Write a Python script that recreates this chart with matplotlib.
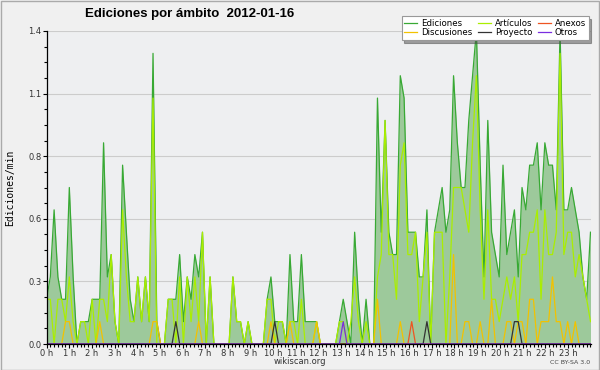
import numpy as np
import matplotlib
matplotlib.use('Agg')
import matplotlib.pyplot as plt
from matplotlib.ticker import MultipleLocator, FormatStrFormatter
from matplotlib.patches import Rectangle

# edits per minute, one value every 10 minutes (6 per hour, 24 rows)
ediciones = [
    0.2, 0.3, 0.6, 0.3, 0.2, 0.2,
    0.7, 0.3, 0.0, 0.1, 0.1, 0.1,
    0.2, 0.2, 0.2, 0.9, 0.3, 0.4,
    0.1, 0.0, 0.8, 0.5, 0.2, 0.1,
    0.3, 0.1, 0.3, 0.1, 1.3, 0.1,
    0.0, 0.0, 0.2, 0.2, 0.2, 0.4,
    0.1, 0.3, 0.2, 0.4, 0.3, 0.5,
    0.0, 0.3, 0.0, 0.0, 0.0, 0.0,
    0.0, 0.3, 0.1, 0.1, 0.0, 0.1,
    0.0, 0.0, 0.0, 0.0, 0.2, 0.3,
    0.1, 0.1, 0.1, 0.0, 0.4, 0.1,
    0.1, 0.4, 0.1, 0.1, 0.1, 0.1,
    0.0, 0.0, 0.0, 0.0, 0.0, 0.1,
    0.2, 0.1, 0.0, 0.5, 0.2, 0.0,
    0.2, 0.0, 0.0, 1.1, 0.5, 1.0,
    0.5, 0.4, 0.4, 1.2, 1.1, 0.5,
    0.5, 0.5, 0.3, 0.3, 0.6, 0.0,
    0.5, 0.6, 0.7, 0.5, 0.6, 1.2,
    0.9, 0.7, 0.7, 1.0, 1.2, 1.4,
    0.8, 0.3, 1.0, 0.5, 0.4, 0.3,
    0.8, 0.4, 0.5, 0.6, 0.3, 0.7,
    0.6, 0.8, 0.8, 0.9, 0.6, 0.9,
    0.8, 0.8, 0.6, 1.4, 0.6, 0.6,
    0.7, 0.6, 0.5, 0.3, 0.2, 0.5,
]

articulos = [
    0.2, 0.2, 0.0, 0.2, 0.2, 0.1,
    0.3, 0.1, 0.0, 0.1, 0.1, 0.0,
    0.2, 0.0, 0.2, 0.2, 0.1, 0.4,
    0.1, 0.0, 0.6, 0.3, 0.1, 0.1,
    0.3, 0.1, 0.3, 0.1, 1.1, 0.0,
    0.0, 0.0, 0.2, 0.2, 0.0, 0.3,
    0.0, 0.3, 0.1, 0.3, 0.1, 0.5,
    0.0, 0.3, 0.0, 0.0, 0.0, 0.0,
    0.0, 0.3, 0.1, 0.1, 0.0, 0.1,
    0.0, 0.0, 0.0, 0.0, 0.2, 0.2,
    0.0, 0.1, 0.1, 0.0, 0.1, 0.1,
    0.0, 0.2, 0.0, 0.0, 0.0, 0.1,
    0.0, 0.0, 0.0, 0.0, 0.0, 0.1,
    0.1, 0.0, 0.1, 0.3, 0.1, 0.0,
    0.1, 0.0, 0.0, 0.3, 0.4, 1.0,
    0.4, 0.4, 0.2, 0.8, 0.9, 0.4,
    0.4, 0.5, 0.1, 0.3, 0.5, 0.0,
    0.5, 0.5, 0.5, 0.0, 0.3, 0.7,
    0.7, 0.7, 0.6, 0.5, 0.9, 1.2,
    0.6, 0.2, 0.6, 0.2, 0.2, 0.1,
    0.2, 0.3, 0.2, 0.3, 0.1, 0.4,
    0.4, 0.5, 0.5, 0.6, 0.2, 0.6,
    0.4, 0.4, 0.5, 1.3, 0.4, 0.5,
    0.5, 0.3, 0.4, 0.3, 0.2, 0.1,
]

discusiones = [
    0.0, 0.0, 0.0, 0.0, 0.0, 0.1,
    0.1, 0.0, 0.0, 0.0, 0.0, 0.0,
    0.0, 0.0, 0.1, 0.0, 0.0, 0.0,
    0.0, 0.0, 0.0, 0.0, 0.0, 0.0,
    0.0, 0.0, 0.0, 0.0, 0.1, 0.1,
    0.0, 0.0, 0.0, 0.0, 0.0, 0.0,
    0.0, 0.0, 0.0, 0.0, 0.1, 0.0,
    0.0, 0.0, 0.0, 0.0, 0.0, 0.0,
    0.0, 0.0, 0.0, 0.0, 0.0, 0.0,
    0.0, 0.0, 0.0, 0.0, 0.0, 0.1,
    0.0, 0.0, 0.0, 0.0, 0.1, 0.0,
    0.0, 0.0, 0.0, 0.0, 0.0, 0.1,
    0.0, 0.0, 0.0, 0.0, 0.0, 0.0,
    0.0, 0.0, 0.0, 0.0, 0.0, 0.0,
    0.0, 0.0, 0.0, 0.2, 0.0, 0.0,
    0.0, 0.0, 0.0, 0.1, 0.0, 0.0,
    0.0, 0.0, 0.0, 0.0, 0.0, 0.0,
    0.0, 0.0, 0.0, 0.0, 0.0, 0.4,
    0.0, 0.0, 0.1, 0.1, 0.0, 0.0,
    0.1, 0.0, 0.0, 0.2, 0.0, 0.0,
    0.0, 0.1, 0.1, 0.0, 0.1, 0.1,
    0.0, 0.2, 0.2, 0.0, 0.1, 0.1,
    0.1, 0.3, 0.1, 0.1, 0.0, 0.1,
    0.0, 0.1, 0.0, 0.0, 0.0, 0.0,
]

# sparse series: slot index (10 min) -> edits/min
proyecto = {34: 0.1, 60: 0.1, 100: 0.1, 123: 0.1, 124: 0.1}
anexos = {96: 0.1}
otros = {78: 0.1}

hour_labels = [f'{h} h' for h in range(24)]
ytick_values = [0.0, 0.28, 0.56, 0.84, 1.12, 1.4]

n = len(ediciones)
x = np.linspace(0, 24, n)


def dense(sparse):
    y = np.zeros(n)
    for k, v in sparse.items():
        y[k] = v
    return y


fig = plt.figure(figsize=(6, 3.7), dpi=100, facecolor='#f0f0f0')
ax = fig.add_axes([46.5 / 600, 26 / 370, 544 / 600, 313 / 370])
ax.set_facecolor('#eeeff1')

ax.fill_between(x, ediciones, color='#9dc99b', lw=0, zorder=1)
l_ed, = ax.plot(x, ediciones, color='#38a934', lw=0.9, zorder=3)
l_ar, = ax.plot(x, articulos, color='#aaee00', lw=0.9, zorder=4)
l_di, = ax.plot(x, discusiones, color='#f2c200', lw=0.9, zorder=5)
l_an, = ax.plot(x, dense(anexos), color='#ee5522', lw=0.9, zorder=6)
l_pr, = ax.plot(x, dense(proyecto), color='#333333', lw=0.9, zorder=6)
l_ot, = ax.plot(x, dense(otros), color='#7a2ee0', lw=0.9, zorder=6)

ax.set_xlim(0, 24)
ax.set_ylim(0, 1.4)
ax.set_xticks(range(24))
ax.set_xticklabels(hour_labels)
ax.xaxis.set_minor_locator(MultipleLocator(1 / 6))
ax.set_yticks(ytick_values)
ax.yaxis.set_major_formatter(FormatStrFormatter('%.1f'))
ax.yaxis.set_minor_locator(MultipleLocator(0.07))
ax.tick_params(axis='both', which='major', direction='out', length=3, width=0.8,
               labelsize=6, colors='#000000', labelcolor='#333333', pad=0.5)
ax.tick_params(axis='both', which='minor', direction='out', length=2.2, width=0.8)
ax.grid(axis='y', color='#cccccc', lw=0.8, zorder=0)
ax.set_axisbelow(True)
for s in ('top', 'right'):
    ax.spines[s].set_visible(False)
for s in ('left', 'bottom'):
    ax.spines[s].set_linewidth(0.9)
    ax.spines[s].set_zorder(10)

fig.text(85 / 600, 1 - 14 / 370, 'Ediciones por ámbito  2012-01-16',
         family='Liberation Sans', fontsize=9.5, fontweight='bold',
         ha='left', va='center')
fig.text(10 / 600, 1 - 188 / 370, 'Ediciones/min', family='DejaVu Sans Mono',
         fontsize=7, rotation=90, ha='center', va='center')
fig.text(300 / 600, 1 - 361 / 370, 'wikiscan.org', fontsize=6,
         color='#333333', ha='center', va='center')
fig.text(590 / 600, 1 - 362 / 370, 'CC BY-SA 3.0', fontsize=4.5,
         color='#444444', ha='right', va='center')

leg = fig.legend([l_ed, l_di, l_ar, l_pr, l_an, l_ot],
                 ['Ediciones', 'Discusiones', 'Artículos', 'Proyecto', 'Anexos', 'Otros'],
                 loc='upper right', bbox_to_anchor=(593 / 600, 1 - 12 / 370),
                 ncol=3, fontsize=6.2, handlelength=1.5, handletextpad=0.5,
                 columnspacing=0.6, labelspacing=0.05, borderpad=0.3,
                 fancybox=False, shadow=True, framealpha=1)
leg.get_frame().set_edgecolor('#999999')
leg.get_frame().set_linewidth(0.8)

fig.patches.append(Rectangle((0.001, 0.001), 0.997, 0.996, transform=fig.transFigure,
                             fill=False, edgecolor='#aaaaaa', lw=1))

fig.savefig('out.png', dpi=100, facecolor=fig.get_facecolor())
